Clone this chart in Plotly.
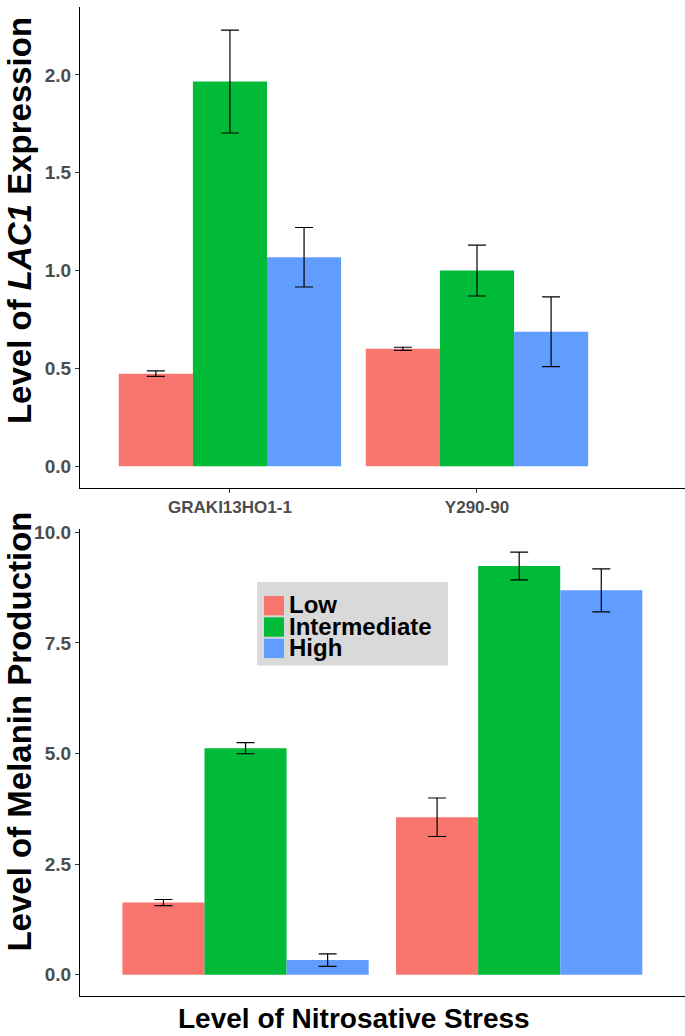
import plotly.graph_objects as go

strains = ["GRAKI13HO1-1", "Y290-90"]
levels = ["Low", "Intermediate", "High"]
colors = ["#F8766D", "#00BA38", "#619CFF"]

# Top panel: LAC1 expression
lac1_mean = {"Low": [0.473, 0.600], "Intermediate": [1.966, 1.000], "High": [1.068, 0.687]}
lac1_err = {"Low": [0.014, 0.008], "Intermediate": [0.263, 0.130], "High": [0.152, 0.178]}

# Bottom panel: melanin production
mel_mean = {"Low": [1.63, 3.56], "Intermediate": [5.12, 9.24], "High": [0.33, 8.69]}
mel_err = {"Low": [0.07, 0.435], "Intermediate": [0.125, 0.315], "High": [0.14, 0.485]}

top_ticks = [0.0, 0.5, 1.0, 1.5, 2.0]
bottom_ticks = [0.0, 2.5, 5.0, 7.5, 10.0]

W, H = 685, 1036
FONT = "Liberation Sans, Arial, sans-serif"

fig = go.Figure()
for lvl, col in zip(levels, colors):
    fig.add_trace(go.Bar(
        x=strains, y=lac1_mean[lvl], name=lvl, marker=dict(color=col, line=dict(width=0)),
        error_y=dict(type="data", array=lac1_err[lvl], color="black", thickness=1.2, width=9),
        xaxis="x", yaxis="y", legendgroup=lvl, showlegend=False))
for lvl, col in zip(levels, colors):
    fig.add_trace(go.Bar(
        x=strains, y=mel_mean[lvl], name=lvl, marker=dict(color=col, line=dict(width=0)),
        error_y=dict(type="data", array=mel_err[lvl], color="black", thickness=1.2, width=9),
        xaxis="x2", yaxis="y2", legendgroup=lvl, showlegend=False))

def px_x(p):
    return p / W

def px_y(p):
    return 1 - p / H

axis_common = dict(showline=True, linecolor="black", linewidth=1.2, showgrid=False, zeroline=False,
                   mirror=False)

fig.update_layout(
    width=W, height=H,
    margin=dict(l=0, r=0, t=0, b=0),
    plot_bgcolor="white", paper_bgcolor="white",
    barmode="group", bargap=0.1, bargroupgap=0,
    font=dict(family=FONT),
    showlegend=False,
    xaxis=dict(domain=[px_x(80), 1], anchor="y", range=[-0.607, 1.842],
               ticks="outside", ticklen=4, tickcolor="#333333",
               tickfont=dict(size=17, color="#4D4D4D", family=FONT, weight="bold"),
               **axis_common),
    yaxis=dict(domain=[px_y(484), 1], anchor="x", range=[-0.110, 2.347],
               tickvals=top_ticks, ticktext=[f"{v:.1f}" for v in top_ticks],
               ticks="outside", ticklen=4, tickcolor="#333333",
               tickfont=dict(size=19, color="#4D4D4D", family=FONT, weight="bold"),
               **axis_common),
    xaxis2=dict(domain=[px_x(80), 1], anchor="y2", range=[-0.605, 1.606],
                showticklabels=False, ticks="", **axis_common),
    yaxis2=dict(domain=[px_y(996), px_y(526)], anchor="x2", range=[-0.488, 10.067],
                tickvals=bottom_ticks, ticktext=[f"{v:.1f}" for v in bottom_ticks],
                ticks="outside", ticklen=4, tickcolor="#333333",
                tickfont=dict(size=19, color="#4D4D4D", family=FONT, weight="bold"),
                **axis_common),
)

# Legend (ggplot-style key box inside the lower panel)
leg_left, leg_top, leg_right, leg_bottom = 257, 579, 448, 663
row_h = 21.5
fig.add_shape(type="rect", xref="paper", yref="paper",
              x0=px_x(leg_left), x1=px_x(leg_right), y0=px_y(leg_bottom), y1=px_y(leg_top),
              fillcolor="#D9D9D9", line=dict(width=0), layer="above")
for i, (lvl, col) in enumerate(zip(levels, colors)):
    top = 593 + i * row_h
    fig.add_shape(type="rect", xref="paper", yref="paper",
                  x0=px_x(264), x1=px_x(284), y0=px_y(top + 19.5), y1=px_y(top),
                  fillcolor=col, line=dict(width=0), layer="above")
    fig.add_annotation(text=lvl, xref="paper", yref="paper",
                       x=px_x(287), y=px_y(top + 9), xanchor="left", yanchor="middle",
                       showarrow=False,
                       font=dict(size=24, color="black", family=FONT, weight="bold"))

fig.add_annotation(text="Level of <i>LAC1</i> Expression", xref="paper", yref="paper",
                   x=px_x(19.5), y=px_y(215), textangle=-90, showarrow=False,
                   xanchor="center", yanchor="middle",
                   font=dict(size=33, color="black", family=FONT, weight="bold"))
fig.add_annotation(text="Level of Melanin Production", xref="paper", yref="paper",
                   x=px_x(19.5), y=px_y(730), textangle=-90, showarrow=False,
                   xanchor="center", yanchor="middle",
                   font=dict(size=33, color="black", family=FONT, weight="bold"))
fig.add_annotation(text="Level of Nitrosative Stress", xref="paper", yref="paper",
                   x=px_x(354), y=px_y(1018), showarrow=False,
                   xanchor="center", yanchor="middle",
                   font=dict(size=28, color="black", family=FONT, weight="bold"))

fig.write_html("out.html", config={"displayModeBar": False},
               post_script="document.body.style.margin='0';document.body.style.padding='0';"
                           "document.body.style.overflow='hidden';")
